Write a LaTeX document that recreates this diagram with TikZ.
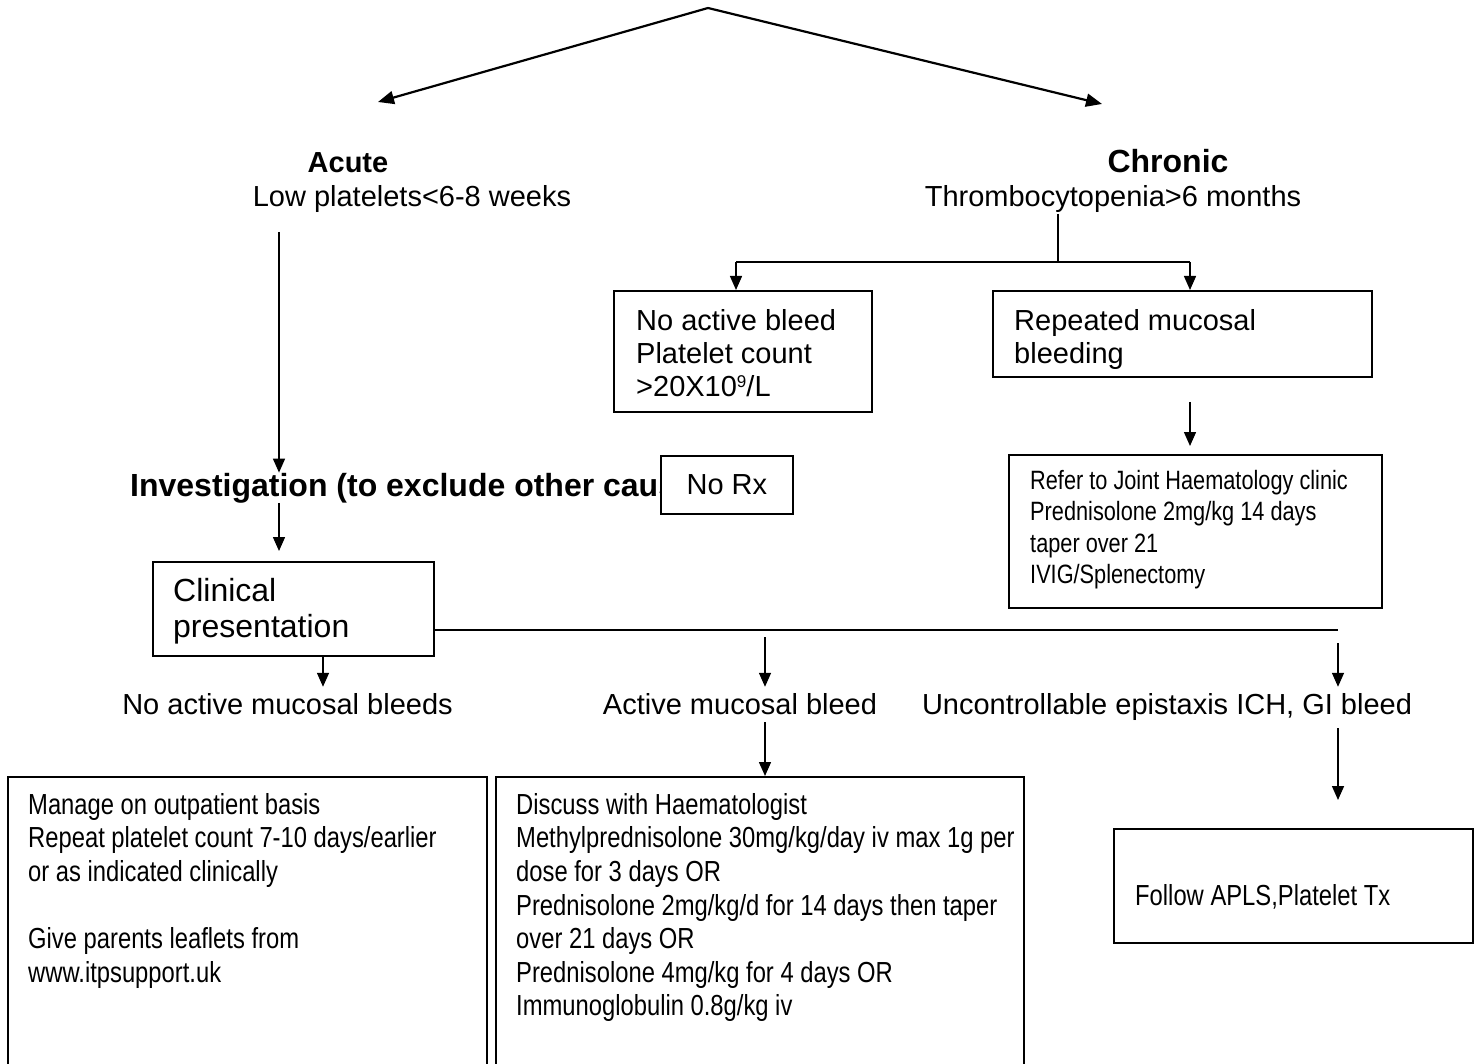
\documentclass[tikz,border=0pt]{standalone}
\usepackage{fontspec}
\setmainfont{Liberation Sans}
\newfontfamily\narrowfont[FakeStretch=0.82]{Liberation Sans}
\usetikzlibrary{arrows.meta}
\begin{document}
\begin{tikzpicture}[x=1pt,y=-1pt,
  conn/.style={line width=1.5pt},
  arr/.style={conn,-{Triangle[length=14pt,width=12pt]}},
  toparr/.style={line width=2.2pt,-{Triangle[length=16pt,width=13pt]}},
  box/.style={draw,line width=1.8pt,rectangle,inner sep=0pt,fill=white,anchor=north west},
  boxtext/.style={inner sep=0pt,anchor=north west,align=left},
  lbl/.style={inner sep=0pt,anchor=base,font=\fontsize{29}{33}\selectfont},
  boldlbl/.style={inner sep=0pt,anchor=base,font=\fontsize{29}{33}\selectfont\bfseries},
  bigbold/.style={inner sep=0pt,anchor=base,font=\fontsize{32}{36}\selectfont\bfseries},
  body/.style={font=\fontsize{29}{33}\selectfont},
  narrowbody/.style={font=\narrowfont\fontsize{29}{33.6}\selectfont},
  smallnarrow/.style={font=\narrowfont\fontsize{26.5}{31.5}\selectfont}
]
\useasboundingbox (0,0) rectangle (1480,1064);
\clip (0,0) rectangle (1480,1064);

% top split
\coordinate (apex) at (708,8);
\coordinate (acuteTip) at (378,102);
\coordinate (chronicTip) at (1102,104);
\draw[toparr] (apex) -- (acuteTip);
\draw[toparr] (apex) -- (chronicTip);

% headings
\node[boldlbl] (acute) at (348,173) {Acute};
\node[lbl] (low) at (412,207) {Low platelets<6-8 weeks};
\node[bigbold] (chronic) at (1168,173) {Chronic};
\node[lbl] (thromb) at (1113,207) {Thrombocytopenia>6 months};

% acute branch
\coordinate (a1) at (279,232);
\node[bigbold,anchor=base west] (inv) at (130,496) {Investigation (to exclude other caus};
\node[box,minimum width=132pt,minimum height=58pt] (norx) at (660,455) {};
\node[inner sep=0pt,body] (norxtext) at (norx.center) {No Rx};
\draw[arr] (a1) -- (a1 |- inv.north);
\node[box,minimum width=281pt,minimum height=94pt] (clin) at (152,561) {};
\node[boxtext,font=\fontsize{32}{36}\selectfont] (clintext) at (173,578) {Clinical\\presentation};
\draw[arr,shorten >=10pt] (a1 |- inv.south) -- (a1 |- clin.north);

% chronic branch
\coordinate (c0) at (1058,214);
\coordinate (c1) at (1058,262);
\coordinate (cl) at (736,262);
\coordinate (cr) at (1190,262);
\node[box,minimum width=258pt,minimum height=121pt] (nobleed) at (613,290) {};
\node[boxtext,body] (nobleedtext) at (636,309)
  {No active bleed\\Platelet count\\>20X10\raisebox{9pt}{\fontsize{17}{17}\selectfont 9}/L};
\node[box,minimum width=379pt,minimum height=86pt] (repeated) at (992,290) {};
\node[boxtext,body] (repeatedtext) at (1014,309) {Repeated mucosal\\bleeding};
\node[box,minimum width=373pt,minimum height=153pt] (refer) at (1008,454) {};
\node[boxtext,smallnarrow] (refertext) at (1030,470)
  {Refer to Joint Haematology clinic\\Prednisolone 2mg/kg 14 days\\taper over 21\\IVIG/Splenectomy};
\draw[conn] (c0) -- (c1);
\draw[conn] (cl) -- (cr);
\draw[arr] (cl) -- (cl |- nobleed.north);
\draw[arr] (cr) -- (cr |- repeated.north);
\draw[arr,shorten <=24pt,shorten >=8pt] (cr |- repeated.south) -- (cr |- refer.north);

% clinical presentation split
\coordinate (h1) at (1338,630);
\coordinate (p1) at (323,630);
\coordinate (p2) at (765,630);
\draw[conn] (clin.east |- h1) -- (h1);
\node[lbl] (nomuc) at (287.5,714) {No active mucosal bleeds};
\node[lbl] (actmuc) at (740,714) {Active mucosal bleed};
\node[lbl] (uncon) at (1167,714) {Uncontrollable epistaxis ICH, GI bleed};
\draw[arr,shorten >=6pt] (p1 |- clin.south) -- (p1 |- nomuc.north);
\draw[arr,shorten <=7pt,shorten >=6pt] (p2) -- (p2 |- actmuc.north);
\draw[arr,shorten <=13pt,shorten >=6pt] (h1) -- (h1 |- actmuc.north);

% bottom boxes
\node[box,minimum width=479pt,minimum height=320pt] (outbox) at (7,776) {};
\node[boxtext,narrowbody] (outtext) at (28,793)
  {Manage on outpatient basis\\Repeat platelet count 7-10 days/earlier\\or as indicated clinically\\[33.6pt]Give parents leaflets from\\www.itpsupport.uk};
\node[box,minimum width=528pt,minimum height=320pt] (discbox) at (495,776) {};
\node[boxtext,narrowbody] (disctext) at (516,793)
  {Discuss with Haematologist\\Methylprednisolone 30mg/kg/day iv max 1g per\\dose for 3 days OR\\Prednisolone 2mg/kg/d for 14 days then taper\\over 21 days OR\\Prednisolone 4mg/kg for 4 days OR\\Immunoglobulin 0.8g/kg iv};
\node[box,minimum width=359pt,minimum height=114pt] (apls) at (1113,828) {};
\node[boxtext,narrowbody] (aplstext) at (1135,884) {Follow APLS,Platelet Tx};
\draw[arr,shorten <=8pt] (p2 |- actmuc.south) -- (p2 |- discbox.north);
\draw[arr,shorten <=8pt,shorten >=28pt] (h1 |- uncon.south) -- (h1 |- apls.north);
\end{tikzpicture}
\end{document}
